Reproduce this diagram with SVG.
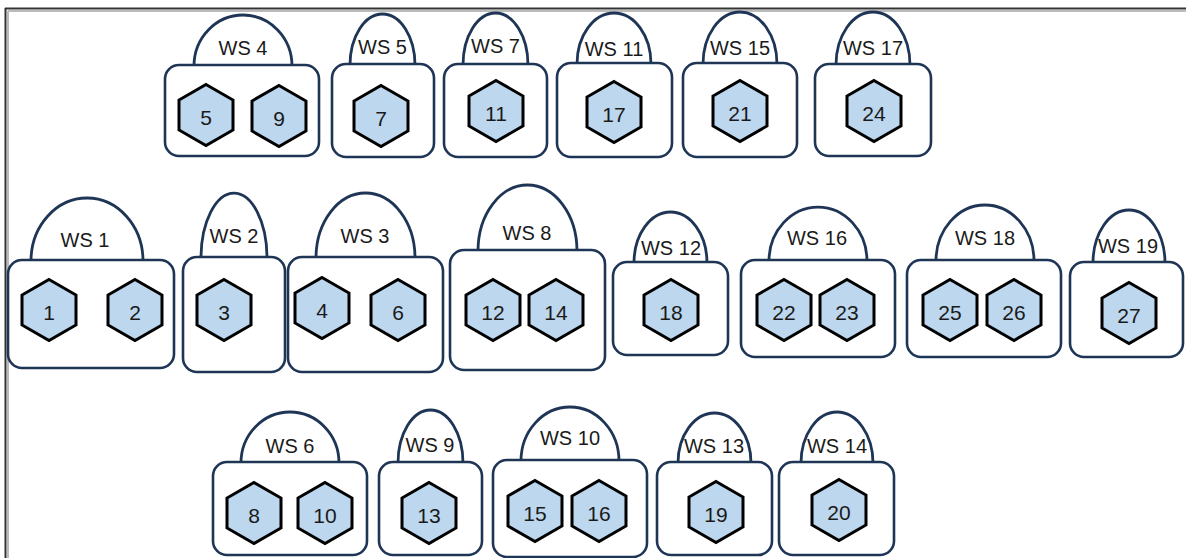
<svg xmlns="http://www.w3.org/2000/svg" xmlns:xlink="http://www.w3.org/1999/xlink" width="1186" height="558" viewBox="0 0 1186 558">
<style>
.frame{fill:none;stroke:#333;stroke-width:2}
.shadow{fill:none;stroke:#bbb;stroke-width:2}
.dome{fill:#fff;stroke:#1f3556;stroke-width:2.8}
.box{fill:#fff;stroke:#1f3556;stroke-width:2.6}
.hex{fill:#bdd7ee;stroke:#000;stroke-width:3;stroke-linejoin:miter}
.ws{font-family:"Liberation Sans",Arial,sans-serif;font-size:20px;fill:#1a1a1a;text-anchor:middle}
.num{font-family:"Liberation Sans",Arial,sans-serif;font-size:21px;fill:#1a1a1a;text-anchor:middle}
</style>
<defs>
<polygon id="hx" class="hex" points="0,-30.5 27,-15 27,15 0,30.5 -27,15 -27,-15"/>
</defs>
<rect width="1186" height="558" fill="#fff"/>
<g id="frame">
<path class="shadow" d="M8,11 H1186 M8,11 V558"/>
<path class="frame" d="M5,8.5 H1186 M5.5,8 V558"/>
</g>
<g id="connectors"/>

<g id="ws4"><path class="dome" d="M194,66 A49,51 0 0 1 292,66"/><rect class="box" x="165" y="65" width="154" height="91" rx="14"/><text class="ws" x="243" y="55">WS 4</text>
<use xlink:href="#hx" x="206" y="115"/><text class="num" x="206" y="125">5</text>
<use xlink:href="#hx" x="279" y="116"/><text class="num" x="279" y="126">9</text></g>

<g id="ws5"><path class="dome" d="M350,65 A32.5,51 0 0 1 415,65"/><rect class="box" x="332" y="64" width="102" height="93" rx="14"/><text class="ws" x="382.5" y="54">WS 5</text>
<use xlink:href="#hx" x="381" y="116"/><text class="num" x="381" y="126">7</text></g>

<g id="ws7"><path class="dome" d="M463,65 A32.5,52 0 0 1 528,65"/><rect class="box" x="444" y="64" width="103" height="93" rx="14"/><text class="ws" x="495.5" y="53">WS 7</text>
<use xlink:href="#hx" x="496" y="111"/><text class="num" x="496" y="121">11</text></g>

<g id="ws11"><path class="dome" d="M577,64 A37,51 0 0 1 651,64"/><rect class="box" x="557" y="63" width="115" height="94" rx="14"/><text class="ws" x="614" y="56">WS 11</text>
<use xlink:href="#hx" x="614" y="112"/><text class="num" x="614" y="122">17</text></g>

<g id="ws15"><path class="dome" d="M703,64 A37,52 0 0 1 777,64"/><rect class="box" x="683" y="63" width="114" height="94" rx="14"/><text class="ws" x="740" y="55">WS 15</text>
<use xlink:href="#hx" x="740" y="111"/><text class="num" x="740" y="121">21</text></g>

<g id="ws17"><path class="dome" d="M836,65 A37,53 0 0 1 910,65"/><rect class="box" x="815" y="64" width="116" height="92" rx="14"/><text class="ws" x="873" y="55">WS 17</text>
<use xlink:href="#hx" x="874" y="111"/><text class="num" x="874" y="121">24</text></g>

<g id="ws1"><path class="dome" d="M31,261 A56,63 0 0 1 143,261"/><rect class="box" x="8" y="260" width="166" height="108" rx="14"/><text class="ws" x="85" y="247">WS 1</text>
<use xlink:href="#hx" x="49" y="310"/><text class="num" x="49" y="320">1</text>
<use xlink:href="#hx" x="135" y="310"/><text class="num" x="135" y="320">2</text></g>

<g id="ws2"><path class="dome" d="M201,258 A33,65 0 0 1 267,258"/><rect class="box" x="183" y="257" width="102" height="115" rx="14"/><text class="ws" x="234" y="243">WS 2</text>
<use xlink:href="#hx" x="224" y="310"/><text class="num" x="224" y="320">3</text></g>

<g id="ws3"><path class="dome" d="M316,258 A49.5,65 0 0 1 415,258"/><rect class="box" x="288" y="257" width="155" height="115" rx="14"/><text class="ws" x="365" y="243">WS 3</text>
<use xlink:href="#hx" x="322" y="308"/><text class="num" x="322" y="318">4</text>
<use xlink:href="#hx" x="398" y="310"/><text class="num" x="398" y="320">6</text></g>

<g id="ws8"><path class="dome" d="M478,251 A49.5,66 0 0 1 577,251"/><rect class="box" x="450" y="250" width="155" height="120" rx="14"/><text class="ws" x="527" y="240">WS 8</text>
<use xlink:href="#hx" x="493" y="310"/><text class="num" x="493" y="320">12</text>
<use xlink:href="#hx" x="556" y="310"/><text class="num" x="556" y="320">14</text></g>

<g id="ws12"><path class="dome" d="M634,263 A36.5,51 0 0 1 707,263"/><rect class="box" x="613" y="262" width="115" height="93" rx="14"/><text class="ws" x="671" y="255">WS 12</text>
<use xlink:href="#hx" x="671" y="310"/><text class="num" x="671" y="320">18</text></g>

<g id="ws16"><path class="dome" d="M769,261 A49,54 0 0 1 867,261"/><rect class="box" x="741" y="260" width="154" height="97" rx="14"/><text class="ws" x="817" y="245">WS 16</text>
<use xlink:href="#hx" x="784" y="310"/><text class="num" x="784" y="320">22</text>
<use xlink:href="#hx" x="847" y="310"/><text class="num" x="847" y="320">23</text></g>

<g id="ws18"><path class="dome" d="M936,261 A49,56 0 0 1 1034,261"/><rect class="box" x="907" y="260" width="154" height="97" rx="14"/><text class="ws" x="985" y="245">WS 18</text>
<use xlink:href="#hx" x="950" y="310"/><text class="num" x="950" y="320">25</text>
<use xlink:href="#hx" x="1014" y="310"/><text class="num" x="1014" y="320">26</text></g>

<g id="ws19"><path class="dome" d="M1093,263 A36,53 0 0 1 1165,263"/><rect class="box" x="1070" y="262" width="113" height="95" rx="14"/><text class="ws" x="1128" y="253">WS 19</text>
<use xlink:href="#hx" x="1129" y="313"/><text class="num" x="1129" y="323">27</text></g>

<g id="ws6"><path class="dome" d="M241,463 A49,51 0 0 1 339,463"/><rect class="box" x="213" y="462" width="154" height="93" rx="14"/><text class="ws" x="290" y="453">WS 6</text>
<use xlink:href="#hx" x="254" y="513"/><text class="num" x="254" y="523">8</text>
<use xlink:href="#hx" x="325" y="513"/><text class="num" x="325" y="523">10</text></g>

<g id="ws9"><path class="dome" d="M398,463 A32.5,53 0 0 1 463,463"/><rect class="box" x="379" y="462" width="103" height="93" rx="14"/><text class="ws" x="430" y="452">WS 9</text>
<use xlink:href="#hx" x="429" y="513"/><text class="num" x="429" y="523">13</text></g>

<g id="ws10"><path class="dome" d="M521,461 A49,54 0 0 1 619,461"/><rect class="box" x="493" y="460" width="154" height="97" rx="14"/><text class="ws" x="570" y="445">WS 10</text>
<use xlink:href="#hx" x="535" y="511"/><text class="num" x="535" y="521">15</text>
<use xlink:href="#hx" x="599" y="511"/><text class="num" x="599" y="521">16</text></g>

<g id="ws13"><path class="dome" d="M678,463 A36.5,50 0 0 1 751,463"/><rect class="box" x="657" y="462" width="115" height="93" rx="14"/><text class="ws" x="714" y="453">WS 13</text>
<use xlink:href="#hx" x="716" y="512"/><text class="num" x="716" y="522">19</text></g>

<g id="ws14"><path class="dome" d="M801,463 A36,51 0 0 1 873,463"/><rect class="box" x="779" y="462" width="115" height="93" rx="14"/><text class="ws" x="837" y="453">WS 14</text>
<use xlink:href="#hx" x="839" y="510"/><text class="num" x="839" y="520">20</text></g>
</svg>
